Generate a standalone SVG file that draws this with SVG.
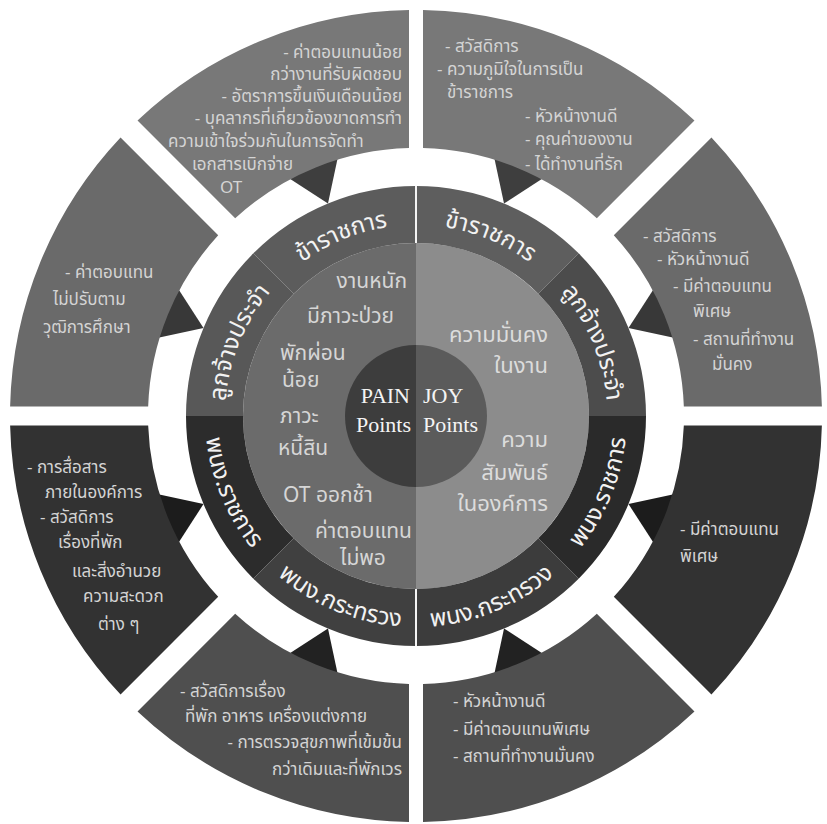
<svg xmlns="http://www.w3.org/2000/svg" width="827" height="824" viewBox="0 0 827 824">
<defs>
<style>
.th{font-family:'Noto Sans Thai','Noto Sans','DejaVu Sans',sans-serif;}
.ot{font-size:17px;fill:#d4d4d4;}
.in{font-size:21px;fill:#d6d6d6;}
.in2{font-size:22px;fill:#dcdcdc;}
.rl{font-size:24px;fill:#f2f2f2;}
.ctr{font-family:'Liberation Serif','Times New Roman',serif;font-size:22px;fill:#f4f4f4;}
.segA{fill:#787878;} .segB{fill:#6a6a6a;} .segC{fill:#323232;} .segD{fill:#4f4f4f;}
.arA{fill:#3e3e3e;} .arB{fill:#383838;} .arC{fill:#1c1c1c;} .arD{fill:#222222;}
</style>
<path id="pL1" d="M 280.94,280.94 A 191 191 0 0 1 416,225"/>
<path id="pL2" d="M 225,416 A 191 191 0 0 1 280.94,280.94"/>
<path id="pR1" d="M 416,225 A 191 191 0 0 1 551.06,280.94"/>
<path id="pR2" d="M 551.06,280.94 A 191 191 0 0 1 607,416"/>
<path id="pL3" d="M 205,416 A 211 211 0 0 0 266.8,565.2"/>
<path id="pL4" d="M 266.8,565.2 A 211 211 0 0 0 416,627"/>
<path id="pR4" d="M 416,627 A 211 211 0 0 0 565.2,565.2"/>
<path id="pR3" d="M 565.2,565.2 A 211 211 0 0 0 627,416"/>
</defs>
<rect width="827" height="824" fill="#ffffff"/>

<!-- PAIN side outer segments -->
<g id="seg-top-left">
<polygon class="arA" points="327.98,203.51 339.40,150.07 282.12,173.79"/>
<path class="segA" d="M 137.53,120.56 A 406 406 0 0 1 409,10.06 L 409,148.09 A 268 268 0 0 0 235.18,218.21 Z"/>
<g class="th ot">
<text x="402" y="58" text-anchor="end">- ค่าตอบแทนน้อย</text>
<text x="402" y="80" text-anchor="end">กว่างานที่รับผิดชอบ</text>
<text x="402" y="102" text-anchor="end">- อัตราการขึ้นเงินเดือนน้อย</text>
<text x="402" y="124" text-anchor="end">- บุคลากรที่เกี่ยวข้องขาดการทำ</text>
<text x="168" y="147">ความเข้าใจร่วมกันในการจัดทำ</text>
<text x="192" y="170">เอกสารเบิกจ่าย</text>
<text x="220" y="193">OT</text>
</g>
</g>
<g id="seg-left-top">
<polygon class="arB" points="203.51,327.98 173.79,282.12 150.07,339.40"/>
<path class="segB" d="M 10.11,406.5 A 406 406 0 0 1 120.56,137.53 L 218.21,235.18 A 268 268 0 0 0 148.17,406.5 Z"/>
<g class="th ot">
<text x="65" y="278">- ค่าตอบแทน</text>
<text x="53" y="305">ไม่ปรับตาม</text>
<text x="43" y="333">วุฒิการศึกษา</text>
</g>
</g>
<g id="seg-left-bottom">
<polygon class="arC" points="203.51,504.02 150.07,492.60 173.79,549.88"/>
<path class="segC" d="M 120.56,694.47 A 406 406 0 0 1 10.11,425.5 L 148.17,425.5 A 268 268 0 0 0 218.21,596.83 Z"/>
<g class="th ot">
<text x="27" y="473">- การสื่อสาร</text>
<text x="45" y="498">ภายในองค์การ</text>
<text x="40" y="523">- สวัสดิการ</text>
<text x="58" y="548">เรื่องที่พัก</text>
<text x="72" y="577">และสิ่งอำนวย</text>
<text x="83" y="602">ความสะดวก</text>
<text x="98" y="630">ต่าง ๆ</text>
</g>
</g>
<g id="seg-bottom-left">
<polygon class="arD" points="327.98,628.49 282.12,658.21 339.40,681.93"/>
<path class="segD" d="M 409,821.94 A 406 406 0 0 1 137.53,711.45 L 235.18,613.80 A 268 268 0 0 0 409,683.91 Z"/>
<g class="th ot">
<text x="180" y="697">- สวัสดิการเรื่อง</text>
<text x="185" y="722">ที่พัก อาหาร เครื่องแต่งกาย</text>
<text x="402" y="748" text-anchor="end">- การตรวจสุขภาพที่เข้มข้น</text>
<text x="402" y="775" text-anchor="end">กว่าเดิมและที่พักเวร</text>
</g>
</g>

<!-- JOY side outer segments -->
<g id="seg-top-right">
<polygon class="arA" points="504.02,203.51 549.88,173.79 492.60,150.07"/>
<path class="segA" d="M 423,10.06 A 406 406 0 0 1 694.47,120.56 L 596.83,218.21 A 268 268 0 0 0 423,148.09 Z"/>
<g class="th ot">
<text x="445" y="52">- สวัสดิการ</text>
<text x="437" y="75">- ความภูมิใจในการเป็น</text>
<text x="447" y="98">ข้าราชการ</text>
<text x="525" y="122">- หัวหน้างานดี</text>
<text x="525" y="145">- คุณค่าของงาน</text>
<text x="525" y="170">- ได้ทำงานที่รัก</text>
</g>
</g>
<g id="seg-right-top">
<polygon class="arB" points="628.49,327.98 681.93,339.40 658.21,282.12"/>
<path class="segB" d="M 711.45,137.53 A 406 406 0 0 1 821.89,406.5 L 683.83,406.5 A 268 268 0 0 0 613.80,235.18 Z"/>
<g class="th ot">
<text x="643" y="242">- สวัสดิการ</text>
<text x="657" y="265">- หัวหน้างานดี</text>
<text x="673" y="292">- มีค่าตอบแทน</text>
<text x="693" y="317">พิเศษ</text>
<text x="693" y="345">- สถานที่ทำงาน</text>
<text x="712" y="370">มั่นคง</text>
</g>
</g>
<g id="seg-right-bottom">
<polygon class="arC" points="628.49,504.02 658.21,549.88 681.93,492.60"/>
<path class="segC" d="M 821.89,425.5 A 406 406 0 0 1 711.45,694.47 L 613.80,596.83 A 268 268 0 0 0 683.83,425.5 Z"/>
<g class="th ot">
<text x="680" y="535">- มีค่าตอบแทน</text>
<text x="680" y="562">พิเศษ</text>
</g>
</g>
<g id="seg-bottom-right">
<polygon class="arD" points="504.02,628.49 492.60,681.93 549.88,658.21"/>
<path class="segD" d="M 694.47,711.45 A 406 406 0 0 1 423,821.94 L 423,683.91 A 268 268 0 0 0 596.83,613.80 Z"/>
<g class="th ot">
<text x="453" y="707">- หัวหน้างานดี</text>
<text x="453" y="735">- มีค่าตอบแทนพิเศษ</text>
<text x="453" y="762">- สถานที่ทำงานมั่นคง</text>
</g>
</g>

<!-- inner disc -->
<g id="pain-half">
<path fill="#6b6b6b" d="M 416,243 A 173 173 0 0 0 416,589 Z"/>
<g class="th in">
<text x="407" y="288" text-anchor="end">งานหนัก</text>
<text x="307" y="323">มีภาวะป่วย</text>
<text x="280" y="360">พักผ่อน</text>
<text x="282" y="387">น้อย</text>
<text x="280" y="423">ภาวะ</text>
<text x="278" y="455">หนี้สิน</text>
<text x="283" y="502">OT ออกช้า</text>
<text x="412" y="538" text-anchor="end">ค่าตอบแทน</text>
<text x="340" y="565">ไม่พอ</text>
</g>
</g>
<g id="joy-half">
<path fill="#8c8c8c" d="M 416,243 A 173 173 0 0 1 416,589 Z"/>
<g class="th in2" text-anchor="end">
<text x="548" y="342">ความมั่นคง</text>
<text x="548" y="373">ในงาน</text>
<text x="548" y="447">ความ</text>
<text x="548" y="480">สัมพันธ์</text>
<text x="548" y="511">ในองค์การ</text>
</g>
</g>

<!-- label ring -->
<g id="ring-pain-kharatchakan">
<path fill="#5c5c5c" d="M 253.37,253.37 A 230 230 0 0 1 416,186 L 416,243 A 173 173 0 0 0 293.67,293.67 Z"/>
<text class="th rl"><textPath href="#pL1" startOffset="50%" text-anchor="middle">ข้าราชการ</textPath></text>
</g>
<g id="ring-pain-lukjang">
<path fill="#585858" d="M 186,416 A 230 230 0 0 1 253.37,253.37 L 293.67,293.67 A 173 173 0 0 0 243,416 Z"/>
<text class="th rl"><textPath href="#pL2" startOffset="50%" text-anchor="middle">ลูกจ้างประจำ</textPath></text>
</g>
<g id="ring-pain-phanakngan-ratchakan">
<path fill="#2c2c2c" d="M 186,416 A 230 230 0 0 0 253.37,578.63 L 293.67,538.33 A 173 173 0 0 1 243,416 Z"/>
<text class="th rl"><textPath href="#pL3" startOffset="50%" text-anchor="middle">พนง.ราชการ</textPath></text>
</g>
<g id="ring-pain-phanakngan-krasuang">
<path fill="#404040" d="M 253.37,578.63 A 230 230 0 0 0 416,646 L 416,589 A 173 173 0 0 1 293.67,538.33 Z"/>
<text class="th rl"><textPath href="#pL4" startOffset="50%" text-anchor="middle">พนง.กระทรวง</textPath></text>
</g>
<g id="ring-joy-kharatchakan">
<path fill="#5e5e5e" d="M 416,186 A 230 230 0 0 1 578.63,253.37 L 538.33,293.67 A 173 173 0 0 0 416,243 Z"/>
<text class="th rl"><textPath href="#pR1" startOffset="50%" text-anchor="middle">ข้าราชการ</textPath></text>
</g>
<g id="ring-joy-lukjang">
<path fill="#4c4c4c" d="M 578.63,253.37 A 230 230 0 0 1 646,416 L 589,416 A 173 173 0 0 0 538.33,293.67 Z"/>
<text class="th rl"><textPath href="#pR2" startOffset="50%" text-anchor="middle">ลูกจ้างประจำ</textPath></text>
</g>
<g id="ring-joy-phanakngan-ratchakan">
<path fill="#2a2a2a" d="M 646,416 A 230 230 0 0 1 578.63,578.63 L 538.33,538.33 A 173 173 0 0 0 589,416 Z"/>
<text class="th rl"><textPath href="#pR3" startOffset="50%" text-anchor="middle">พนง.ราชการ</textPath></text>
</g>
<g id="ring-joy-phanakngan-krasuang">
<path fill="#3c3c3c" d="M 578.63,578.63 A 230 230 0 0 1 416,646 L 416,589 A 173 173 0 0 0 538.33,538.33 Z"/>
<text class="th rl"><textPath href="#pR4" startOffset="50%" text-anchor="middle">พนง.กระทรวง</textPath></text>
</g>
<g id="ring-dividers" stroke="#f4f4f4" stroke-width="2">
<line x1="416" y1="186" x2="416" y2="243"/>
<line x1="416" y1="589" x2="416" y2="646"/>
</g>

<!-- centre -->
<g id="center-pain">
<path fill="#3d3d3d" d="M 416,345 A 71 71 0 0 0 416,487 Z"/>
<text class="ctr" x="410" y="403" text-anchor="end">PAIN</text>
<text class="ctr" x="411" y="432" text-anchor="end">Points</text>
</g>
<g id="center-joy">
<path fill="#5b5b5b" d="M 416,345 A 71 71 0 0 1 416,487 Z"/>
<text class="ctr" x="423" y="403">JOY</text>
<text class="ctr" x="423" y="432">Points</text>
</g>
<g id="connectors"></g>
</svg>
